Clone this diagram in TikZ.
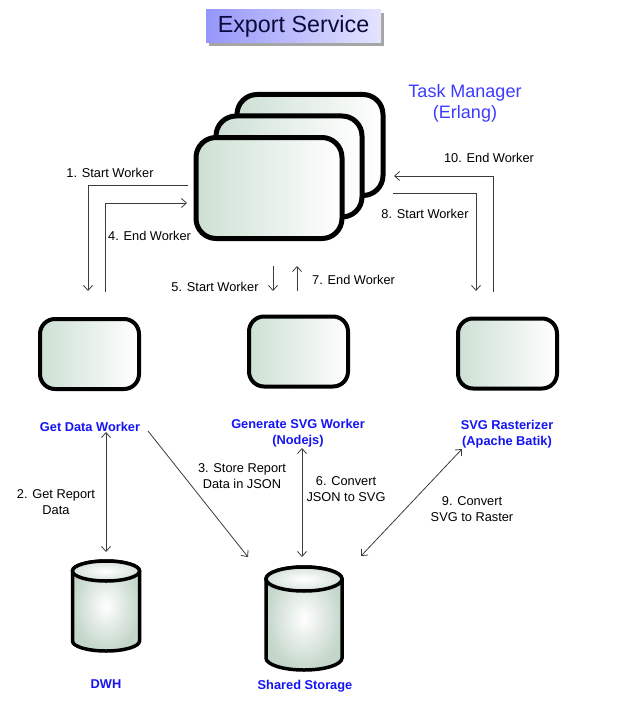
\documentclass[tikz,border=0pt]{standalone}
\usepackage{fontspec}
\setmainfont{Liberation Sans}
\usetikzlibrary{arrows.meta,shadows}
\definecolor{boxl}{RGB}{205,224,212}
\definecolor{cylo}{RGB}{196,214,202}
\definecolor{conn}{RGB}{60,60,60}
\definecolor{lblue}{RGB}{20,20,245}
\definecolor{tmblue}{RGB}{60,60,255}
\definecolor{titl}{RGB}{150,150,250}
\definecolor{titr}{RGB}{228,228,255}
\definecolor{titt}{RGB}{10,10,60}
\tikzset{
  tmbox/.style={draw=black, line width=5pt, rounded corners=20pt, minimum width=146pt, minimum height=101pt, left color=boxl, right color=white},
  wbox/.style={draw=black, line width=4pt, rounded corners=15pt, minimum width=99pt, minimum height=70pt, left color=boxl, right color=white},
  conn/.style={draw=conn, line width=0.8pt},
  tip/.style={-{Straight Barb[length=5pt,width=9pt]}},
  dtip/.style={{Straight Barb[length=5pt,width=9pt]}-{Straight Barb[length=5pt,width=9pt]}},
  lbl/.style={font=\fontsize{12.8}{15.5}\selectfont, align=center, inner sep=0pt, text=black},
  wlbl/.style={font=\fontsize{12.8}{16}\selectfont\bfseries, align=center, inner sep=0pt, text=lblue},
  cylbody/.style={inner color=white, outer color=cylo, draw=black, line width=3.5pt},
}
\begin{document}
\begin{tikzpicture}[x=1pt,y=-1pt]
\useasboundingbox[fill=white] (0,0) rectangle (640,706);
% title
\node[minimum width=175pt, minimum height=33pt, left color=titl, right color=titr, inner sep=0pt,
  drop shadow={shadow xshift=3pt, shadow yshift=-3pt, fill=black!35, opacity=1},
  font=\fontsize{23.3}{27}\selectfont, text=titt] (title) at (293.5,26.5) {Export Service};
% task manager
\node[tmbox] (tm3) at (310,145) {};
\node[tmbox] (tm2) at (289,166.5) {};
\node[tmbox] (tm1) at (269,188) {};
\node[font=\fontsize{18}{21}\selectfont, text=tmblue, align=center, inner sep=0pt] (tmlbl) at (465,103) {Task Manager\\(Erlang)};
% workers
\node[wbox] (gd) at (89.5,354) {};
\node[wbox] (gs) at (298.5,351.5) {};
\node[wbox] (sr) at (507.5,353.5) {};
\node[wlbl] (gdl) at (90,427) {Get Data Worker};
\node[wlbl] (gsl) at (298,433) {Generate SVG Worker\\(Nodejs)};
\node[wlbl] (srl) at (507,434) {SVG Rasterizer\\(Apache Batik)};
% cylinders
\path[cylbody] (72.5,571) -- (72.5,641) arc[start angle=180,end angle=360,x radius=33.5pt,y radius=10pt] -- (139.5,571) arc[start angle=0,end angle=180,x radius=33.5pt,y radius=10pt] -- cycle;
\path[draw=black, line width=3.5pt, inner color=white, outer color=cylo!70] (106,571) ellipse[x radius=33.5pt, y radius=10pt];
\path[cylbody] (266,579) -- (266,658) arc[start angle=180,end angle=360,x radius=38pt,y radius=12pt] -- (342,579) arc[start angle=0,end angle=180,x radius=38pt,y radius=12pt] -- cycle;
\path[draw=black, line width=3.5pt, inner color=white, outer color=cylo!70] (304,579) ellipse[x radius=38pt, y radius=12pt];
\node[wlbl] (dwh) at (106,684) {DWH};
\node[wlbl] (ss) at (305,686) {Shared Storage};
% connector coordinates
\coordinate (a1s) at (188,185); \coordinate (a1e) at (88,291);
\coordinate (a4s) at (105,292); \coordinate (a4e) at (187,203);
\coordinate (a5s) at (273,266); \coordinate (a5e) at (273,291);
\coordinate (a7s) at (297,291); \coordinate (a7e) at (297,266);
\coordinate (a10s) at (493,292); \coordinate (a10e) at (394,176);
\coordinate (a8s) at (393,193); \coordinate (a8e) at (476,291);
\coordinate (a2s) at (106,432); \coordinate (a2e) at (106,552);
\coordinate (a3s) at (148,431); \coordinate (a3e) at (248,557);
\coordinate (a6s) at (302,448); \coordinate (a6e) at (302,557);
\coordinate (a9s) at (462,449); \coordinate (a9e) at (361,556);
\draw[conn,tip] (a1s) -| (a1e);
\draw[conn,tip] (a4s) |- (a4e);
\draw[conn,tip] (a5s) -- (a5e);
\draw[conn,tip] (a7s) -- (a7e);
\draw[conn,tip] (a10s) |- (a10e);
\draw[conn,tip] (a8s) -| (a8e);
\draw[conn,dtip] (a2s) -- (a2e);
\draw[conn,tip] (a3s) -- (a3e);
\draw[conn,dtip] (a6s) -- (a6e);
\draw[conn,dtip] (a9s) -- (a9e);
% labels
\node[lbl] (l1) at (110,173) {1. Start Worker};
\node[lbl, anchor=west] (l4) at (108,236) {4. End Worker};
\node[lbl] (l5) at (215,287) {5. Start Worker};
\node[lbl, anchor=west] (l7) at (312,280) {7. End Worker};
\node[lbl] (l10) at (489,158) {10. End Worker};
\node[lbl] (l8) at (425,214) {8. Start Worker};
\node[lbl] (l2) at (56,502) {2. Get Report\\Data};
\node[lbl] (l3) at (242,476) {3. Store Report\\Data in JSON};
\node[lbl] (l6) at (346,489) {6. Convert\\JSON to SVG};
\node[lbl] (l9) at (472,509) {9. Convert\\SVG to Raster};
\end{tikzpicture}
\end{document}
